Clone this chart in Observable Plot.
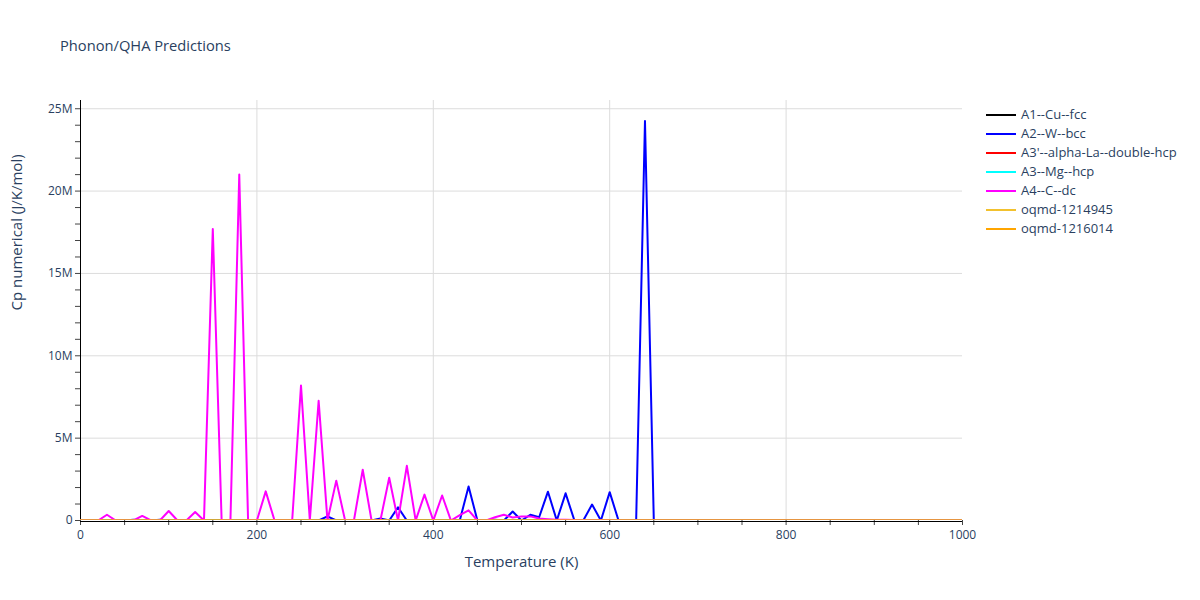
<!DOCTYPE html>
<html><head><meta charset="utf-8">
<script src="https://cdn.jsdelivr.net/npm/d3@7"></script>
<script src="https://cdn.jsdelivr.net/npm/@observablehq/plot@0.6"></script>
<style>
body{margin:0;background:#fff;font-family:'Open Sans',sans-serif;}
#wrap{position:relative;width:1200px;height:600px;}
#title{position:absolute;left:60px;top:35px;font-size:14.7px;line-height:20px;color:#2a3f5f;}
#legend{position:absolute;left:986px;top:105px;font-size:13px;line-height:19px;color:#2a3f5f;}
.item{display:flex;align-items:center;height:19px;line-height:19px;white-space:nowrap;overflow:visible;}
.sw{width:30px;height:2px;margin-right:5px;flex:none;}
</style></head><body>
<div id="wrap"><div id="chart"></div><div id="title">Phonon/QHA Predictions</div><div id="legend"></div></div>
<script>
// Temperatures (K), every 10 K from 0 to 1000
const temps = d3.range(0, 1001, 10);

const seriesNames = ["A1--Cu--fcc","A2--W--bcc","A3'--alpha-La--double-hcp","A3--Mg--hcp","A4--C--dc","oqmd-1214945","oqmd-1216014"];
const seriesColors = ["#000000","#0000ff","#ff0000","#00ffff","#ff00ff","#f2c12e","#ffa500"];

// Cp numerical values in millions of J/K/mol
const cpCu = [0,0,0,0,0,0,0,0,0,0, 0,0,0,0,0,0,0,0,0,0, 0,0,0,0,0,0,0,0,0,0, 0,0,0,0,0,0,0,0,0,0, 0,0,0,0,0,0,0,0,0,0,
  0,0,0,0,0,0,0,0,0,0, 0,0,0,0,0,0,0,0,0,0, 0,0,0,0,0,0,0,0,0,0, 0,0,0,0,0,0,0,0,0,0, 0,0,0,0,0,0,0,0,0,0, 0];
const cpW = [0,0,0,0,0,0,0.05,0,0,0.05,
  0,0,0,0,0,0,0,0,0,0,
  0,0,0,0,0,0,0,0,0.25,0,
  0,0,0,0,0.12,0,0.8,0,0,0,
  0,0,0,0,2.07,0,0,0.05,0,0.55,
  0,0.35,0.2,1.75,0,1.65,0,0,0.97,0,
  1.72,0,0,0,24.25,0,0,0,0,0,
  0,0,0,0,0,0,0,0,0,0, 0,0,0,0,0,0,0,0,0,0, 0,0,0,0,0,0,0,0,0,0, 0];
const cpLa = [0,0,0,0,0,0,0,0,0,0, 0,0,0,0,0,0,0,0,0,0, 0,0,0,0,0,0,0,0,0,0, 0,0,0,0,0,0,0,0,0,0, 0,0,0,0,0,0,0,0,0,0,
  0,0,0,0,0,0,0,0,0,0, 0,0,0,0,0,0,0,0,0,0, 0,0,0,0,0,0,0,0,0,0, 0,0,0,0,0,0,0,0,0,0, 0,0,0,0,0,0,0,0,0,0, 0];
const cpMg = [0,0,0,0,0,0,0,0,0,0, 0,0,0,0,0,0,0,0,0,0, 0,0,0,0,0,0,0,0,0,0, 0,0,0,0,0,0,0,0,0,0, 0,0,0,0,0,0,0,0,0,0,
  0,0,0,0,0,0,0,0,0,0, 0,0,0,0,0,0,0,0,0,0, 0,0,0,0,0,0,0,0,0,0, 0,0,0,0,0,0,0,0,0,0, 0,0,0,0,0,0,0,0,0,0, 0];
const cpC = [0,0,0,0.35,0,0,0,0.28,0,0,
  0.58,0,0,0.52,0,17.7,0,0,21.0,0,
  0,1.77,0,0,0,8.2,0,7.27,0,2.42,
  0,0,3.08,0,0,2.6,0,3.32,0,1.57,
  0,1.52,0,0.32,0.62,0,0,0.2,0.35,0.18,
  0.25,0.25,0.12,0.08,0.05,0.04,0.03,0.02,0.02,0.01,
  0.01,0,0,0,0,0,0,0,0,0,
  0,0,0,0,0,0,0,0,0,0, 0,0,0,0,0,0,0,0,0,0, 0,0,0,0,0,0,0,0,0,0, 0];
const cpO1 = [0,0,0,0,0,0,0,0,0,0, 0,0,0,0,0,0,0,0,0,0, 0,0,0,0,0,0,0,0,0,0, 0,0,0,0,0,0,0,0,0,0, 0,0,0,0,0,0,0,0,0,0,
  0,0,0,0,0,0,0,0,0,0, 0,0,0,0,0,0,0,0,0,0, 0,0,0,0,0,0,0,0,0,0, 0,0,0,0,0,0,0,0,0,0, 0,0,0,0,0,0,0,0,0,0, 0];
const cpO2 = [0,0,0,0,0,0,0,0,0,0, 0,0,0,0,0,0,0,0,0,0, 0,0,0,0,0,0,0,0,0,0, 0,0,0,0,0,0,0,0,0,0, 0,0,0,0,0,0,0,0,0,0,
  0,0,0,0,0,0,0,0,0,0, 0,0,0,0,0,0,0,0,0,0, 0,0,0,0,0,0,0,0,0,0, 0,0,0,0,0,0,0,0,0,0, 0,0,0,0,0,0,0,0,0,0, 0];

const seriesValues = [cpCu, cpW, cpLa, cpMg, cpC, cpO1, cpO2];

const xMajor = [0,200,400,600,800,1000];
const xMinor = [50,100,150,250,300,350,450,500,550,650,700,750,850,900,950];
const yMajor = [0,5e6,10e6,15e6,20e6,25e6];
const yMinor = [1e6,2e6,3e6,4e6,6e6,7e6,8e6,9e6,11e6,12e6,13e6,14e6,16e6,17e6,18e6,19e6,21e6,22e6,23e6,24e6];

const fmtY = d => d === 0 ? "0" : (d / 1e6) + "M";
const fmtX = d => String(d);

const lineMarks = seriesNames.map((name, i) => {
  const rows = temps.map((t, j) => ({T: t, v: seriesValues[i][j] * 1e6}));
  return Plot.line(rows, {x: "T", y: "v", stroke: seriesColors[i], strokeWidth: 2, clip: true});
});

const chart = Plot.plot({
  width: 1200, height: 600,
  marginLeft: 80, marginRight: 238, marginTop: 100, marginBottom: 80,
  style: {fontFamily: "'Open Sans', sans-serif", fontSize: "12px", color: "#2a3f5f", background: "#fff"},
  x: {domain: [0, 1000]},
  y: {domain: [0, 25.5e6]},
  marks: [
    Plot.gridX(xMajor.filter(v => v > 0 && v < 1000), {stroke: "#dcdcdc", strokeOpacity: 1}),
    Plot.gridY(yMajor.filter(v => v > 0), {stroke: "#dcdcdc", strokeOpacity: 1}),
    Plot.axisX({ticks: xMinor, tickSize: 5, tickFormat: () => "", label: null, stroke: "#444"}),
    Plot.axisX({ticks: xMajor, tickSize: 5, tickPadding: 5, tickFormat: fmtX, label: null, stroke: "#444", fill: "#2a3f5f"}),
    Plot.axisY({ticks: yMinor, tickSize: 5, tickFormat: () => "", label: null, stroke: "#444"}),
    Plot.axisY({ticks: yMajor, tickSize: 5, tickPadding: 3, tickFormat: fmtY, label: null, stroke: "#444", fill: "#2a3f5f"}),
    Plot.ruleY([0], {stroke: "#000", strokeWidth: 1, dy: 1}),
    Plot.ruleX([0], {stroke: "#000", strokeWidth: 1}),
    ...lineMarks,
    Plot.text(["Temperature (K)"], {frameAnchor: "bottom", dy: 46, fontSize: 15, fill: "#2a3f5f"}),
    Plot.text(["Cp numerical (J/K/mol)"], {frameAnchor: "left", dx: -63, rotate: -90, fontSize: 15, fill: "#2a3f5f"})
  ]
});
document.getElementById("chart").appendChild(chart);

const legend = document.getElementById("legend");
seriesNames.forEach((name, i) => {
  const item = document.createElement("div");
  item.className = "item";
  const sw = document.createElement("div");
  sw.className = "sw";
  sw.style.background = seriesColors[i];
  const label = document.createElement("span");
  label.textContent = name;
  item.appendChild(sw);
  item.appendChild(label);
  legend.appendChild(item);
});
</script></body></html>
